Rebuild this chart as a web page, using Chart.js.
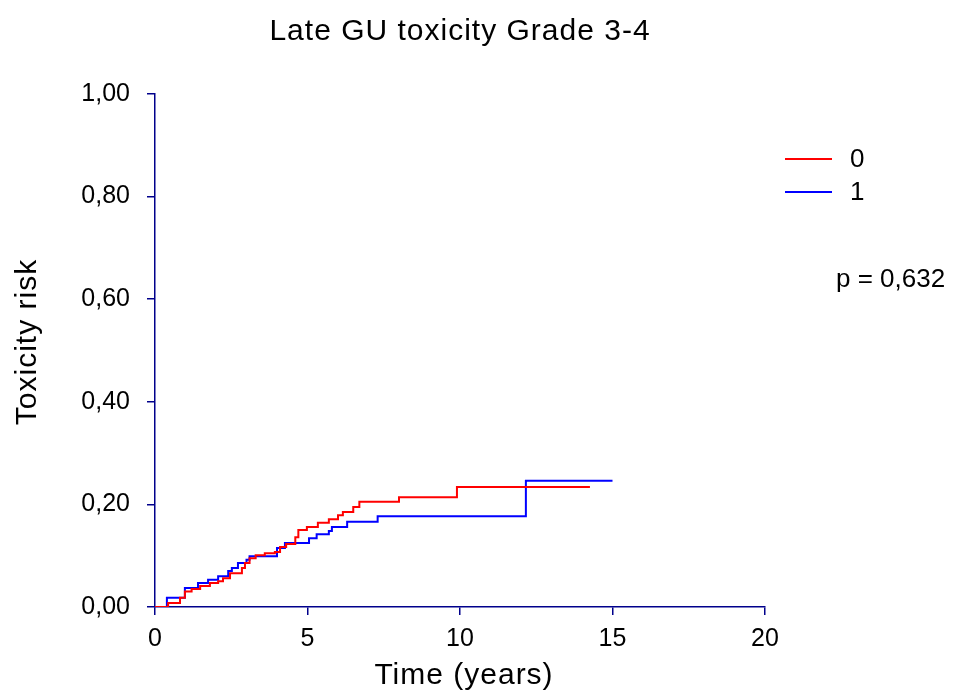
<!DOCTYPE html>
<html>
<head>
<meta charset="utf-8">
<title>Late GU toxicity Grade 3-4</title>
<script src="https://cdn.jsdelivr.net/npm/chart.js@4"></script>
<style>
  html, body { margin: 0; padding: 0; background: #fff; }
  canvas { display: block; }
</style>
</head>
<body>
<canvas id="kmChart" width="953" height="693"></canvas>
<script>
// Cumulative incidence step points (time in years, risk)
const groupLabels = ["0", "1"];
const timesGroup0 = [0, 0.43, 0.82, 0.98, 1.2, 1.48, 1.8, 2.07, 2.23, 2.46, 2.85, 2.95, 3.1, 3.3, 3.6, 3.93, 4.1, 4.3, 4.6, 4.7, 4.98, 5.34, 5.7, 6.0, 6.16, 6.5, 6.7, 8.0, 9.9, 14.26];
const riskGroup0 = [0, 0.008, 0.018, 0.03, 0.035, 0.041, 0.047, 0.05, 0.056, 0.066, 0.076, 0.086, 0.095, 0.101, 0.105, 0.107, 0.117, 0.123, 0.136, 0.15, 0.156, 0.164, 0.171, 0.179, 0.185, 0.195, 0.205, 0.214, 0.234, 0.234];
const timesGroup1 = [0, 0.39, 0.98, 1.41, 1.74, 2.07, 2.4, 2.52, 2.72, 3.0, 3.1, 4.0, 4.26, 5.05, 5.3, 5.7, 5.8, 6.3, 7.3, 12.16, 15.0];
const riskGroup1 = [0, 0.018, 0.037, 0.047, 0.053, 0.06, 0.07, 0.076, 0.086, 0.092, 0.099, 0.115, 0.125, 0.134, 0.142, 0.148, 0.156, 0.166, 0.177, 0.246, 0.246];

const xTicks = [0, 5, 10, 15, 20];
const yTicks = [0, 0.2, 0.4, 0.6, 0.8, 1.0];
const pValueText = "p = 0,632";

const axisColor = "#00008b";
const fontFamily = "'Liberation Sans', Arial, sans-serif";

// helper: pair times with risks for a linear x scale
function toPoints(times, risks) {
    return times.map((t, i) => ({ x: t, y: risks[i] }));
}

// titles, legend and p-value drawn on top (big text is a little spaced out in the original)
const annotations = {
    id: "annotations",
    afterDraw(chart) {
        const ctx = chart.ctx;
        const area = chart.chartArea;
        ctx.save();
        ctx.fillStyle = "#000";
        ctx.letterSpacing = "1px";
        ctx.font = "30px " + fontFamily;
        ctx.textAlign = "center";
        ctx.textBaseline = "alphabetic";
        ctx.fillText("Late GU toxicity Grade 3-4", (area.left + area.right) / 2, 40);
        ctx.fillText("Time (years)", (area.left + area.right) / 2 + 4, 684);

        ctx.save();
        ctx.translate(36, 342);
        ctx.rotate(-Math.PI / 2);
        ctx.fillText("Toxicity risk", 0, 0);
        ctx.restore();

        // legend
        ctx.letterSpacing = "0px";
        ctx.font = "26px " + fontFamily;
        ctx.textAlign = "left";
        ctx.textBaseline = "middle";
        const rows = [159, 192];
        chart.data.datasets.forEach((ds, i) => {
            ctx.strokeStyle = ds.borderColor;
            ctx.lineWidth = 2;
            ctx.beginPath();
            ctx.moveTo(785, rows[i]);
            ctx.lineTo(832, rows[i]);
            ctx.stroke();
            ctx.fillText(ds.label, 850, rows[i] + 1);
        });

        ctx.textBaseline = "alphabetic";
        ctx.fillText(pValueText, 836, 287);
        ctx.restore();
    }
};

const kmChart = new Chart(document.getElementById("kmChart").getContext("2d"), {
    type: "line",
    data: {
        datasets: [
            {
                label: groupLabels[0],
                data: toPoints(timesGroup0, riskGroup0),
                borderColor: "#ff0000",
                borderWidth: 2,
                stepped: "before",
                pointRadius: 0,
                fill: false
            },
            {
                label: groupLabels[1],
                data: toPoints(timesGroup1, riskGroup1),
                borderColor: "#0000ff",
                borderWidth: 2,
                stepped: "before",
                pointRadius: 0,
                fill: false
            }
        ]
    },
    options: {
        responsive: false,
        animation: false,
        layout: { padding: { top: 94, right: 188, left: 0, bottom: 0 } },
        plugins: {
            legend: { display: false },
            title: { display: false },
            tooltip: { enabled: false }
        },
        scales: {
            x: {
                type: "linear",
                min: 0,
                max: 20,
                afterBuildTicks: (scale) => { scale.ticks = xTicks.map(v => ({ value: v })); },
                afterFit: (scale) => { scale.height = 86; },
                ticks: {
                    color: "#000",
                    font: { family: fontFamily, size: 25 },
                    padding: 9,
                    maxRotation: 0
                },
                grid: { drawOnChartArea: false, drawTicks: true, tickLength: 8, color: axisColor, lineWidth: 1.5 },
                border: { color: axisColor, width: 1.5 }
            },
            y: {
                min: 0,
                max: 1,
                afterBuildTicks: (scale) => { scale.ticks = yTicks.map(v => ({ value: v })); },
                afterFit: (scale) => { scale.width = 155; },
                ticks: {
                    color: "#000",
                    font: { family: fontFamily, size: 25 },
                    padding: 17,
                    callback: (v) => v.toFixed(2).replace(".", ",")
                },
                grid: { drawOnChartArea: false, drawTicks: true, tickLength: 8, color: axisColor, lineWidth: 1.5 },
                border: { color: axisColor, width: 1.5 }
            }
        }
    },
    plugins: [annotations]
});
</script>
</body>
</html>
